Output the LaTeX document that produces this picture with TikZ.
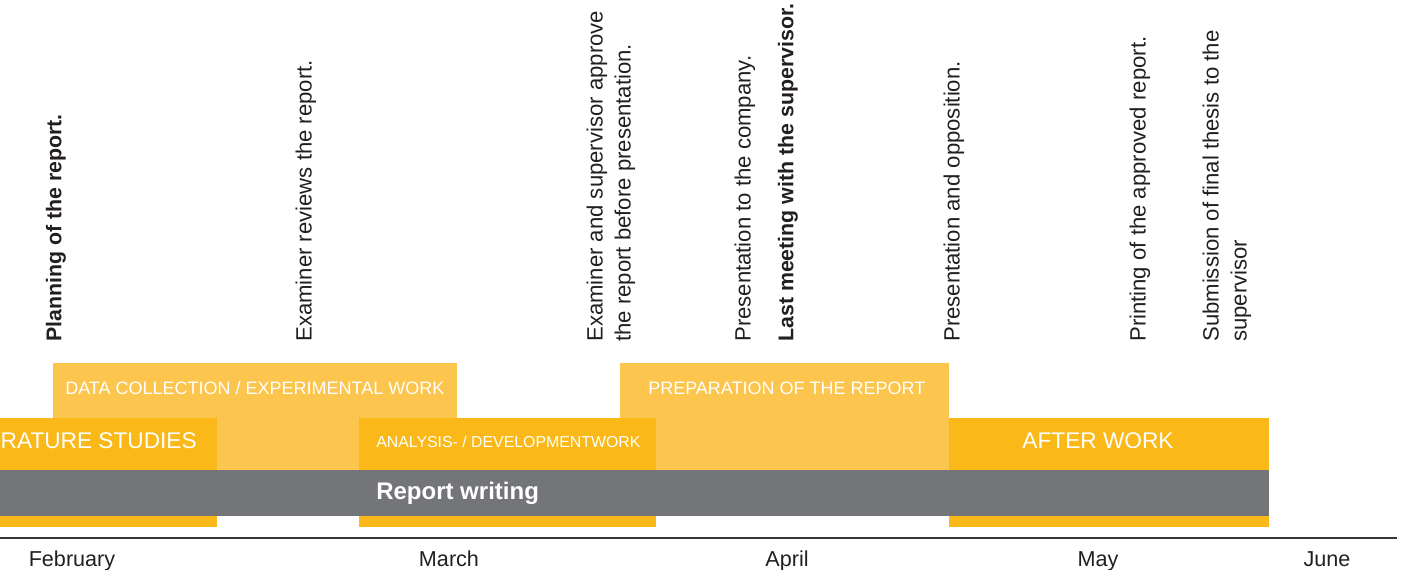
\documentclass[tikz,border=0pt]{standalone}
\usepackage{fontspec}
\setmainfont{Liberation Sans}
\definecolor{lightY}{RGB}{252,197,77}
\definecolor{darkY}{RGB}{250,184,25}
\definecolor{barGray}{RGB}{116,117,121}
\definecolor{txt}{RGB}{35,31,32}
\definecolor{axisc}{RGB}{55,55,58}
\begin{document}
\begin{tikzpicture}[x=0.75pt,y=-0.75pt,
  event/.style={rotate=90,anchor=west,inner sep=0pt,text=txt,font=\fontsize{16.6}{21}\selectfont,align=left},
  boldevent/.style={event,font=\fontsize{16}{21}\selectfont\bfseries},
  smallbar/.style={inner sep=0pt,text=white,font=\fontsize{13.5}{16}\selectfont},
  tinybar/.style={inner sep=0pt,text=white,font=\fontsize{11.9}{14}\selectfont},
  bigbar/.style={inner sep=0pt,text=white,font=\fontsize{17}{20}\selectfont},
  month/.style={inner sep=0pt,anchor=base,text=txt,font=\fontsize{16.2}{19}\selectfont}]
\useasboundingbox (0,0) rectangle (1404,570);
\clip (0,0) rectangle (1404,570);
% light boxes
\fill[lightY] (53,363) rectangle (457,470);
\fill[lightY] (620,363) rectangle (949,470);
% dark boxes
\fill[darkY] (0,418) rectangle (217,527);
\fill[darkY] (359,418) rectangle (656,527);
\fill[darkY] (949,418) rectangle (1269,527);
% report writing bar
\fill[barGray] (0,470) rectangle (1269,516);
% bar labels
\node[smallbar,anchor=west] (dc) at (65,388) {DATA COLLECTION / EXPERIMENTAL WORK};
\node[smallbar,anchor=west] (prep) at (648,388) {PREPARATION OF THE REPORT};
\node[bigbar,anchor=east] (lit) at (197,441) {LITERATURE STUDIES};
\node[tinybar,anchor=west] (ana) at (376,442) {ANALYSIS- / DEVELOPMENTWORK};
\node[bigbar] (after) at (1098,441) {AFTER WORK};
\node[inner sep=0pt,anchor=west,text=white,font=\fontsize{18}{21}\selectfont\bfseries] (rw) at (376,493) {Report writing};
% axis
\coordinate (axL) at (0,538);
\coordinate (axR) at (1397,538);
\draw[axisc,line width=1.2pt] (axL) -- (axR);
\node[month] (feb) at (72,566) {February};
\node[month] (mar) at (449,566) {March};
\node[month] (apr) at (787,566) {April};
\node[month] (may) at (1098,566) {May};
\node[month] (jun) at (1327,566) {June};
% events
\node[boldevent] (e1) at (56,342) {Planning of the report.};
\node[event] (e2) at (306,342) {Examiner reviews the report.};
\node[event] (e3) at (611,342) {Examiner and supervisor approve\\the report before presentation.};
\node[event] (e4) at (745,342) {Presentation to the company.};
\node[boldevent] (e5) at (788,342) {Last meeting with the supervisor.};
\node[event] (e6) at (954,342) {Presentation and opposition.};
\node[event] (e7) at (1140,342) {Printing of the approved report.};
\node[event] (e8) at (1227,342) {Submission of final thesis to the\\supervisor};
\end{tikzpicture}
\end{document}
